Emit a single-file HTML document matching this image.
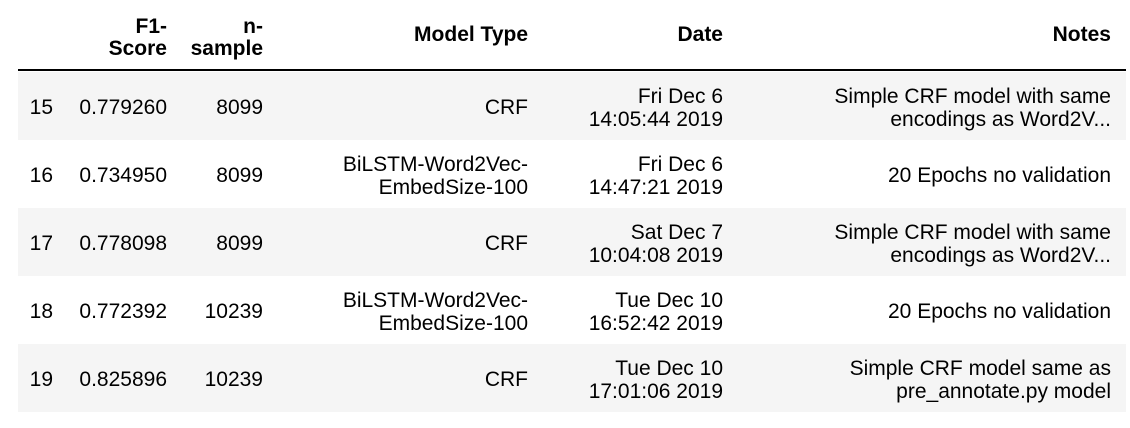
<!DOCTYPE html>
<html><head><style>
body{margin:0;width:1130px;height:428px;background:#fff;font-family:"Liberation Sans",Arial,sans-serif;font-size:21px;color:#000;position:relative;overflow:hidden}
.r{position:absolute;left:18px;width:1108px;height:68px}
.g{background:#f5f5f5}
.c{position:absolute;text-align:right;line-height:23px;white-space:nowrap}
.h{font-weight:bold;line-height:22px}
.line{position:absolute;left:18px;width:1108px;top:69px;height:2px;background:#000}
</style></head><body>
<div class="line"></div>
<div class="r g" style="top:72px"></div>
<div class="r" style="top:140px"></div>
<div class="r g" style="top:208px"></div>
<div class="r" style="top:276px"></div>
<div class="r g" style="top:344px"></div>

<div class="c h" style="right:963px;top:16px">F1-<br>Score</div>
<div class="c h" style="right:867px;top:16px">n-<br>sample</div>
<div class="c h" style="right:602px;top:24px">Model Type</div>
<div class="c h" style="right:407px;top:24px">Date</div>
<div class="c h" style="right:19px;top:24px">Notes</div>

<div id="rows"></div>
<script>
var d=[["15","0.779260","8099","CRF","Fri Dec 6<br>14:05:44 2019","Simple CRF model with same<br>encodings as Word2V..."],
["16","0.734950","8099","BiLSTM-Word2Vec-<br>EmbedSize-100","Fri Dec 6<br>14:47:21 2019","20 Epochs no validation"],
["17","0.778098","8099","CRF","Sat Dec 7<br>10:04:08 2019","Simple CRF model with same<br>encodings as Word2V..."],
["18","0.772392","10239","BiLSTM-Word2Vec-<br>EmbedSize-100","Tue Dec 10<br>16:52:42 2019","20 Epochs no validation"],
["19","0.825896","10239","CRF","Tue Dec 10<br>17:01:06 2019","Simple CRF model same as<br>pre_annotate.py model"]];
var rights=[1077,963,867,602,407,19],h="";
d.forEach(function(r,i){var top=72+68*i;r.forEach(function(t,j){var two=t.indexOf("<br>")>=0;h+='<div class="c" style="right:'+rights[j]+'px;top:'+(top+(two?13:24))+'px">'+t+'</div>';});});
document.getElementById("rows").innerHTML=h;
</script>
</body></html>
